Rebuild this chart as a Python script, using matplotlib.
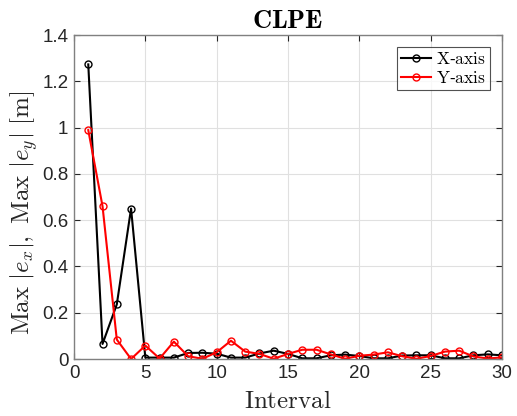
import matplotlib
matplotlib.use("Agg")
import matplotlib.pyplot as plt
import numpy as np

intervals = list(range(1, 31))
x_axis_err = [1.273, 0.065, 0.236, 0.650, 0.006, 0.006, 0.006, 0.026, 0.027, 0.023,
              0.006, 0.006, 0.024, 0.036, 0.022, 0.003, 0.003, 0.016, 0.019, 0.013,
              0.003, 0.003, 0.015, 0.016, 0.016, 0.003, 0.003, 0.016, 0.020, 0.016]
y_axis_err = [0.989, 0.660, 0.084, 0.000, 0.058, 0.002, 0.075, 0.012, 0.001, 0.029,
              0.079, 0.032, 0.022, 0.001, 0.022, 0.040, 0.040, 0.020, 0.001, 0.014,
              0.019, 0.029, 0.012, 0.001, 0.013, 0.032, 0.036, 0.011, 0.002, 0.007]
series_labels = ["X-axis", "Y-axis"]
xticks = [0, 5, 10, 15, 20, 25, 30]
yticks = [0, 0.2, 0.4, 0.6, 0.8, 1, 1.2, 1.4]
ytick_labels = ["0", "0.2", "0.4", "0.6", "0.8", "1", "1.2", "1.4"]

plt.rcParams['mathtext.fontset'] = 'cm'
plt.rcParams['font.family'] = ['Liberation Sans', 'DejaVu Sans']

fig = plt.figure(figsize=(5.17, 4.16), dpi=100)
ax = fig.add_axes([74/517, 1-359/416, (502-74)/517, (359-35)/416])

ax.plot(intervals, x_axis_err, color='black', lw=1.5, marker='o', ms=5,
        mfc='none', mec='black', mew=1.0, label=series_labels[0])
ax.plot(intervals, y_axis_err, color='red', lw=1.5, marker='o', ms=5,
        mfc='none', mec='red', mew=1.0, label=series_labels[1])

ax.set_xlim(0, 30)
ax.set_ylim(0, 1.4)
ax.set_xticks(xticks)
ax.set_yticks(yticks)
ax.set_yticklabels(ytick_labels)
ax.grid(True, color='#e0e0e0', lw=0.8)
ax.set_axisbelow(True)
ax.tick_params(direction='in', top=True, right=True, labelsize=13.5,
               colors='#262626', length=4, width=0.8, pad=4)
for s in ax.spines.values():
    s.set_color('#808080')
    s.set_linewidth(1.0)

ax.set_xlabel(r'$\mathrm{Interval}$', fontsize=18, color='#262626', labelpad=5)
ax.set_ylabel(r'$\mathrm{Max}\ |e_x|,\ \mathrm{Max}\ |e_y|\ [\mathrm{m}]$',
              fontsize=18, color='#262626')
ax.yaxis.set_label_coords(-0.08, 0.45)
ax.set_title(r'$\mathbf{CLPE}$', fontsize=19, pad=5)

leg = ax.legend(loc='upper right', fancybox=False, edgecolor='#262626',
                prop={'size': 12.5},
                handlelength=1.7, handletextpad=0.3, borderpad=0.25,
                labelspacing=0.15, borderaxespad=0.7)
leg.get_frame().set_linewidth(0.8)
for t, lab in zip(leg.get_texts(), series_labels):
    t.set_text(r'$\mathrm{' + lab.replace('-', '\u2010') + '}$')

fig.savefig('out.png', dpi=100)
